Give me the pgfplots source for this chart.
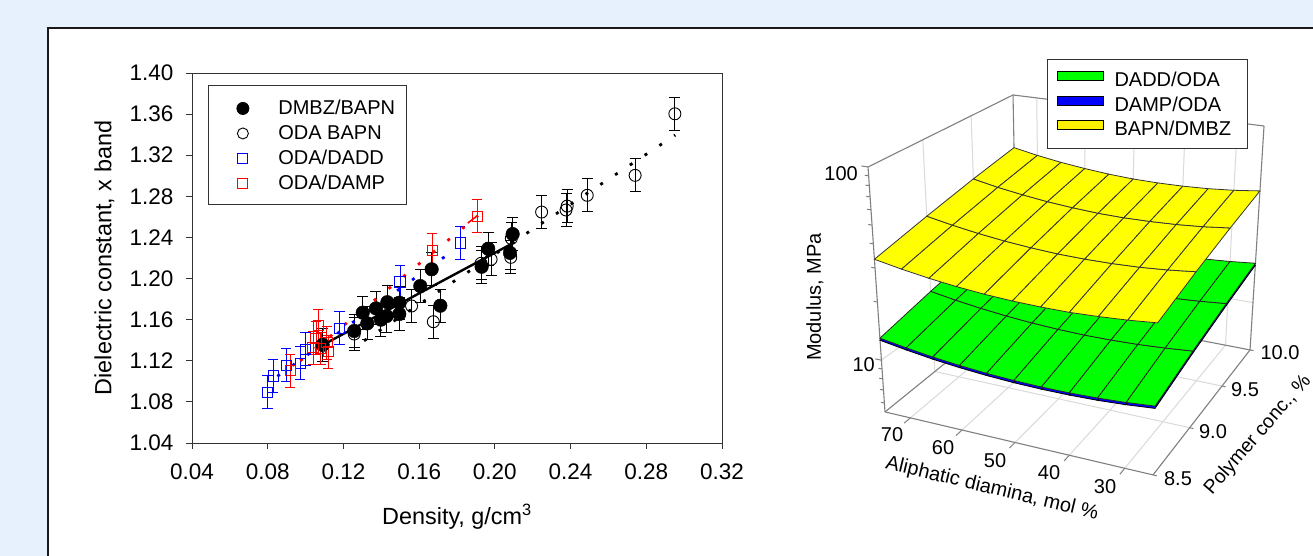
\documentclass[border=0pt]{standalone}
\usepackage{pgfplots}
\usepackage{pgfplotstable}
\usepackage{fontspec}
\setmainfont{Liberation Sans}
\pgfplotsset{compat=1.18}
\definecolor{bgblue}{RGB}{230,241,253}
\definecolor{frameg}{RGB}{128,128,128}
\definecolor{gridg}{RGB}{218,218,218}
\newcommand{\fs}[1]{\fontsize{#1}{#1}\selectfont}

% ---- left chart: density, dielectric constant
\pgfplotstableread{
x y
0.1257 1.149
0.1090 1.1356
0.1302 1.1668
0.1326 1.1564
0.1372 1.171
0.1398 1.160
0.1432 1.177
0.1428 1.1635
0.1495 1.1765
0.1495 1.1655
0.1606 1.1927
0.1666 1.209
0.1712 1.1736
0.1930 1.2115
0.1965 1.229
0.2080 1.225
0.2094 1.2433
}\tDMBZ
\pgfplotstableread{
x y
0.1090 1.135
0.1257 1.146
0.1560 1.1733
0.1675 1.158
0.1927 1.2148
0.1980 1.2187
0.2084 1.2206
0.2087 1.239
0.2247 1.2647
0.2382 1.2705
0.2376 1.2667
0.2488 1.281
0.2741 1.3004
0.2951 1.3603
}\tODA
\pgfplotstableread{
x y
0.0798 1.0893
0.0829 1.1052
0.0898 1.1156
0.0972 1.1175
0.0999 1.1312
0.1180 1.1516
0.1499 1.1966
0.1817 1.2346
}\tDADD
\pgfplotstableread{
x y
0.0919 1.1103
0.1039 1.1327
0.1055 1.1418
0.1067 1.1541
0.1080 1.132
0.1112 1.1376
0.1120 1.129
0.1669 1.2274
0.1907 1.2605
}\tDAMP

% ---- right chart: aliphatic diamine mol %, polymer conc. %, modulus MPa
\pgfplotstableread{
mol conc M
75 8.5 12.68
70 8.5 12.06
65 8.5 11.55
60 8.5 11.18
55 8.5 10.91
50 8.5 10.74
45 8.5 10.67
40 8.5 10.68
35 8.5 10.78
30 8.5 10.99
25 8.5 11.30
75 9.0 14.46
70 9.0 13.74
65 9.0 13.18
60 9.0 12.75
55 9.0 12.45
50 9.0 12.27
45 9.0 12.18
40 9.0 12.22
35 9.0 12.35
30 9.0 12.61
25 9.0 12.97
75 9.5 16.21
70 9.5 15.41
65 9.5 14.78
60 9.5 14.31
55 9.5 13.98
50 9.5 13.78
45 9.5 13.70
40 9.5 13.74
35 9.5 13.91
30 9.5 14.22
25 9.5 14.65
75 10.0 17.95
70 10.0 17.05
65 10.0 16.35
60 10.0 15.82
55 10.0 15.46
50 10.0 15.24
45 10.0 15.16
40 10.0 15.23
35 10.0 15.43
30 10.0 15.79
25 10.0 16.29
}\tBlue
\pgfplotstableread{
mol conc M
75 8.5 13.00
70 8.5 12.37
65 8.5 11.85
60 8.5 11.47
55 8.5 11.19
50 8.5 11.02
45 8.5 10.94
40 8.5 10.95
35 8.5 11.06
30 8.5 11.27
25 8.5 11.59
75 9.0 14.83
70 9.0 14.09
65 9.0 13.52
60 9.0 13.08
55 9.0 12.77
50 9.0 12.58
45 9.0 12.49
40 9.0 12.53
35 9.0 12.67
30 9.0 12.93
25 9.0 13.30
75 9.5 16.63
70 9.5 15.81
65 9.5 15.16
60 9.5 14.68
55 9.5 14.34
50 9.5 14.13
45 9.5 14.05
40 9.5 14.09
35 9.5 14.27
30 9.5 14.58
25 9.5 15.03
75 10.0 18.41
70 10.0 17.49
65 10.0 16.77
60 10.0 16.23
55 10.0 15.86
50 10.0 15.63
45 10.0 15.55
40 10.0 15.62
35 10.0 15.83
30 10.0 16.19
25 10.0 16.71
}\tGreen
\pgfplotstableread{
mol conc M
75 8.5 33.3
70 8.5 31.4
65 8.5 29.9
60 8.5 28.8
55 8.5 28.0
50 8.5 27.5
45 8.5 27.3
40 8.5 27.3
35 8.5 27.7
30 8.5 28.3
25 8.5 29.2
75 9.0 38.2
70 9.0 36.0
65 9.0 34.3
60 9.0 33.0
55 9.0 32.1
50 9.0 31.5
45 9.0 31.3
40 9.0 31.4
35 9.0 31.8
30 9.0 32.6
25 9.0 33.8
75 9.5 43.3
70 9.5 40.7
65 9.5 38.8
60 9.5 37.3
55 9.5 36.3
50 9.5 35.6
45 9.5 35.4
40 9.5 35.6
35 9.5 36.1
30 9.5 37.0
25 9.5 38.4
75 10.0 48.1
70 10.0 45.2
65 10.0 43.0
60 10.0 41.4
55 10.0 40.2
50 10.0 39.5
45 10.0 39.3
40 10.0 39.5
35 10.0 40.1
30 10.0 41.2
25 10.0 42.9
}\tYellow

% projection of (mol %, conc. %, modulus) on the picture, with perspective
\newcommand{\PX}{(1-ww(\thisrow{M}))*bl(885,1153,1250,1017,uu(\thisrow{mol}),vv(\thisrow{conc}))+ww(\thisrow{M})*bl(868,1161,1264,1013,uu(\thisrow{mol}),vv(\thisrow{conc}))}
\newcommand{\PY}{556-((1-ww(\thisrow{M}))*bl(412,475,350,305,uu(\thisrow{mol}),vv(\thisrow{conc}))+ww(\thisrow{M})*bl(167,212,126,95,uu(\thisrow{mol}),vv(\thisrow{conc})))}
\newcommand{\gl}[7][]{\addplot3[forget plot,#1] table[row sep=\\,x expr=\PX,y expr=\PY,z expr=0] {mol conc M\\ #2 #3 #4\\ #5 #6 #7\\};}
\newcommand{\lab}[4][]{\node[#1] at (#2pt,{(556-#3)*1pt}) {#4};}

\begin{document}
\begin{tikzpicture}
\useasboundingbox (0,0) rectangle (1313pt,556pt);
\fill[bgblue] (0,0) rectangle (1313pt,556pt);
\fill[white] (48pt,0) rectangle (1313pt,528pt);
\draw[black!90,line width=2pt] (48pt,0) -- (48pt,528pt) -- (1313pt,528pt);

\begin{axis}[
  at={(192pt,113pt)}, anchor=south west,
  scale only axis, width=530pt, height=370pt,
  xmin=0.04, xmax=0.32, ymin=1.04, ymax=1.40,
  xtick={0.04,0.08,...,0.321}, ytick={1.04,1.08,...,1.401},
  tick align=outside, tickwidth=6pt, xtick pos=lower, ytick pos=left,
  /pgf/number format/assume math mode=true,
  /pgf/number format/fixed, /pgf/number format/fixed zerofill, /pgf/number format/precision=2,
  tick label style={font=\fs{22.5}},
  xticklabel style={yshift=-11pt},
  yticklabel style={xshift=-9pt},
  axis line style={line width=0.9pt,black!80}, tick style={line width=0.9pt,black!80},
  xlabel={Density, g/cm\textsuperscript{3}}, ylabel={Dielectric constant, x band},
  label style={font=\fs{23.4}},
  xlabel style={at={(axis description cs:0.5,0)},yshift=-58pt},
  ylabel style={at={(axis description cs:0,0.5)},yshift=74pt},
  clip=false,
  legend style={at={(16.3pt,358pt)},anchor=north west,draw=black!80,line width=0.9pt,
    font=\fs{20},inner xsep=11.7pt,inner ysep=13pt,row sep=7pt,
    nodes={inner sep=0pt,text height=16pt,text depth=2pt},
    /tikz/column 1/.style={column sep=27pt}},
  legend cell align=left,
  error bars/error bar style={line width=0.9pt},
]
\addlegendimage{legend image code/.code={\fill[black] (22pt,-1pt) circle (6pt); \path (0pt,-1pt) (30pt,-1pt);}}
\addlegendentry{DMBZ/BAPN}
\addlegendimage{legend image code/.code={\draw[black,line width=0.9pt] (22pt,-1pt) circle (5.5pt); \path (0pt,-1pt) (30pt,-1pt);}}
\addlegendentry{ODA BAPN}
\addlegendimage{legend image code/.code={\draw[blue,line width=0.9pt] (17pt,-6pt) rectangle (27pt,4pt); \path (0pt,-1pt) (30pt,-1pt);}}
\addlegendentry{ODA/DADD}
\addlegendimage{legend image code/.code={\draw[red,line width=0.9pt] (17pt,-6pt) rectangle (27pt,4pt); \path (0pt,-1pt) (30pt,-1pt);}}
\addlegendentry{ODA/DAMP}

\addplot[forget plot,only marks,black,mark=o,mark size=6pt,mark options={line width=0.9pt},
  error bars/.cd,y dir=both,y fixed=0.016,error mark options={rotate=90,mark size=5.5pt,line width=0.9pt,black}]
  table[x=x,y=y] {\tODA};
\addplot[forget plot,only marks,black,mark=*,mark size=6.8pt,
  error bars/.cd,y dir=both,y fixed=0.016,error mark options={rotate=90,mark size=5.5pt,line width=0.9pt,black}]
  table[x=x,y=y] {\tDMBZ};
\addplot[forget plot,black,line width=2.4pt] coordinates {(0.1090,1.1353) (0.2096,1.2345)};
\addplot[forget plot,black,line width=2.8pt,dash pattern=on 3pt off 14.7pt] coordinates {(0.1309,1.1395) (0.2953,1.3396)};
\addplot[forget plot,only marks,blue,mark=square,mark size=5.2pt,mark options={line width=0.9pt},
  error bars/.cd,y dir=both,y fixed=0.016,error mark options={rotate=90,mark size=5.2pt,line width=0.9pt,blue}]
  table[x=x,y=y] {\tDADD};
\addplot[forget plot,blue,line width=2.8pt,dash pattern=on 3pt off 15.4pt] coordinates {(0.0851,1.1049) (0.1794,1.2290)};
\addplot[forget plot,only marks,red,mark=square,mark size=5.2pt,mark options={line width=0.9pt},
  error bars/.cd,y dir=both,y fixed=0.016,error mark options={rotate=90,mark size=5.2pt,line width=0.9pt,red}]
  table[x=x,y=y] {\tDAMP};
\addplot[forget plot,red,line width=2.8pt,dash pattern=on 3pt off 16pt] coordinates {(0.0972,1.12) (0.1911,1.2611)};
\addplot[forget plot,red,line width=1.6pt] coordinates {(0.1857,1.2540) (0.1905,1.2608)};
\end{axis}

\begin{axis}[
  at={(0,0)}, anchor=south west,
  scale only axis, width=1313pt, height=556pt,
  xmin=0, xmax=1313, ymin=0, ymax=556, zmin=-1, zmax=1,
  view={0}{90}, hide axis, clip=false, z buffer=none,
  declare function={
    uu(\m)=(75-\m)/50*(0.94+0.06*(75-\m)/50);
    vv(\c)=(\c-8.5)/1.5*(1.2-0.2*(\c-8.5)/1.5);
    ww(\M)=(log10(\M)-0.732)/1.268;
    bl(\p,\q,\r,\s,\u,\v)=(1-\u)*(1-\v)*\p+\u*(1-\v)*\q+\u*\v*\r+(1-\u)*\v*\s;
  },
  legend style={at={(1047pt,497pt)},anchor=north west,draw=black!80,line width=1pt,
    font=\fs{20},inner xsep=9pt,inner ysep=11pt,row sep=6.6pt,
    nodes={inner sep=0pt,text height=16pt,text depth=2pt},
    /tikz/column 1/.style={column sep=11pt}},
  legend cell align=left,
  legend image code/.code={\draw[line width=1pt,#1] (0pt,-1.3pt) rectangle (46pt,7.7pt);},
]
\addlegendimage{fill=green,draw=black}
\addlegendentry{DADD/ODA}
\addlegendimage{fill=blue,draw=black}
\addlegendentry{DAMP/ODA}
\addlegendimage{fill=yellow,draw=black}
\addlegendentry{BAPN/DMBZ\hspace*{7pt}}

% walls and floor: grid
\pgfplotsinvokeforeach{70,60,50,40,30}{
  \gl[gridg,line width=1pt]{#1}{8.5}{5.4}{#1}{10}{5.4}
  \gl[gridg,line width=1pt]{#1}{10}{5.4}{#1}{10}{100}
  \gl[frameg,line width=1pt]{#1}{8.5}{5.4}{#1}{8.44}{5.4}
}
\pgfplotsinvokeforeach{9,9.5}{
  \gl[gridg,line width=1pt]{75}{#1}{5.4}{25}{#1}{5.4}
  \gl[gridg,line width=1pt]{75}{#1}{5.4}{75}{#1}{100}
}
\pgfplotsinvokeforeach{8.5,9,9.5,10}{
  \gl[frameg,line width=1pt]{25}{#1}{5.4}{24.3}{#1}{5.4}
}
\gl[gridg,line width=1pt]{75}{8.5}{10}{75}{10}{10}
\gl[gridg,line width=1pt]{75}{10}{10}{25}{10}{10}
% box edges
\gl[frameg,line width=1.1pt]{75}{8.5}{5.4}{75}{8.5}{100}
\gl[frameg,line width=1.1pt]{75}{8.5}{100}{75}{10}{100}
\gl[frameg,line width=1.1pt]{75}{10}{100}{25}{10}{100}
\gl[frameg,line width=1.1pt]{25}{10}{100}{25}{10}{5.4}
\gl[frameg,line width=1.1pt]{75}{10}{5.4}{75}{10}{100}
\gl[frameg,line width=1.1pt]{75}{8.5}{5.4}{25}{8.5}{5.4}
\gl[frameg,line width=1.1pt]{25}{8.5}{5.4}{25}{10}{5.4}
\gl[frameg,line width=1.1pt]{75}{8.5}{5.4}{75}{10}{5.4}
\gl[frameg,line width=1.1pt]{25}{10}{5.4}{75}{10}{5.4}
% modulus ticks
\pgfplotsinvokeforeach{100,10}{\gl[frameg,line width=1pt]{75}{8.5}{#1}{76.2}{8.5}{#1}}
\pgfplotsinvokeforeach{90,80,70,60,50,40,30,20,9,8,7,6}{\gl[frameg,line width=1pt]{75}{8.5}{#1}{75.7}{8.5}{#1}}

% surfaces
\addplot3[forget plot,surf,shader=faceted,faceted color=black,line width=0.8pt,
  colormap={bb}{rgb255=(0,0,255) rgb255=(0,0,255)},
  mesh/rows=4,mesh/cols=11,point meta=\thisrow{M}]
  table[x expr=\PX,y expr=\PY,z expr=0] {\tBlue};
\addplot3[forget plot,surf,shader=faceted,faceted color=black!85,line width=0.8pt,
  colormap={gg}{rgb255=(0,255,0) rgb255=(0,255,0)},
  mesh/rows=4,mesh/cols=11,point meta=\thisrow{M}]
  table[x expr=\PX,y expr=\PY,z expr=0] {\tGreen};
\addplot3[forget plot,surf,shader=faceted,faceted color=black!80,line width=0.8pt,
  colormap={yy}{rgb255=(255,255,0) rgb255=(255,255,0)},
  mesh/rows=4,mesh/cols=11,point meta=\thisrow{M}]
  table[x expr=\PX,y expr=\PY,z expr=0] {\tYellow};
\end{axis}

% text of the right chart
\begin{scope}[every node/.style={font=\fs{20},inner sep=0pt,text=black}]
\lab[anchor=east]{858}{174}{100}
\lab[anchor=east]{875}{365}{10}
\lab{892}{435}{70}
\lab{943}{448}{60}
\lab{995}{461}{50}
\lab{1049}{473}{40}
\lab{1105}{487}{30}
\lab{1178}{479}{8.5}
\lab{1213}{432}{9.0}
\lab{1245}{390}{9.5}
\lab{1280}{353}{10.0}
\lab[rotate=-13.4]{992}{489}{Aliphatic diamina, mol \%}
\lab[rotate=49,font=\fs{19.5}]{1258}{435}{Polymer conc., \%}
\lab[rotate=90]{815}{297}{Modulus, MPa}
\end{scope}
\end{tikzpicture}
\end{document}
